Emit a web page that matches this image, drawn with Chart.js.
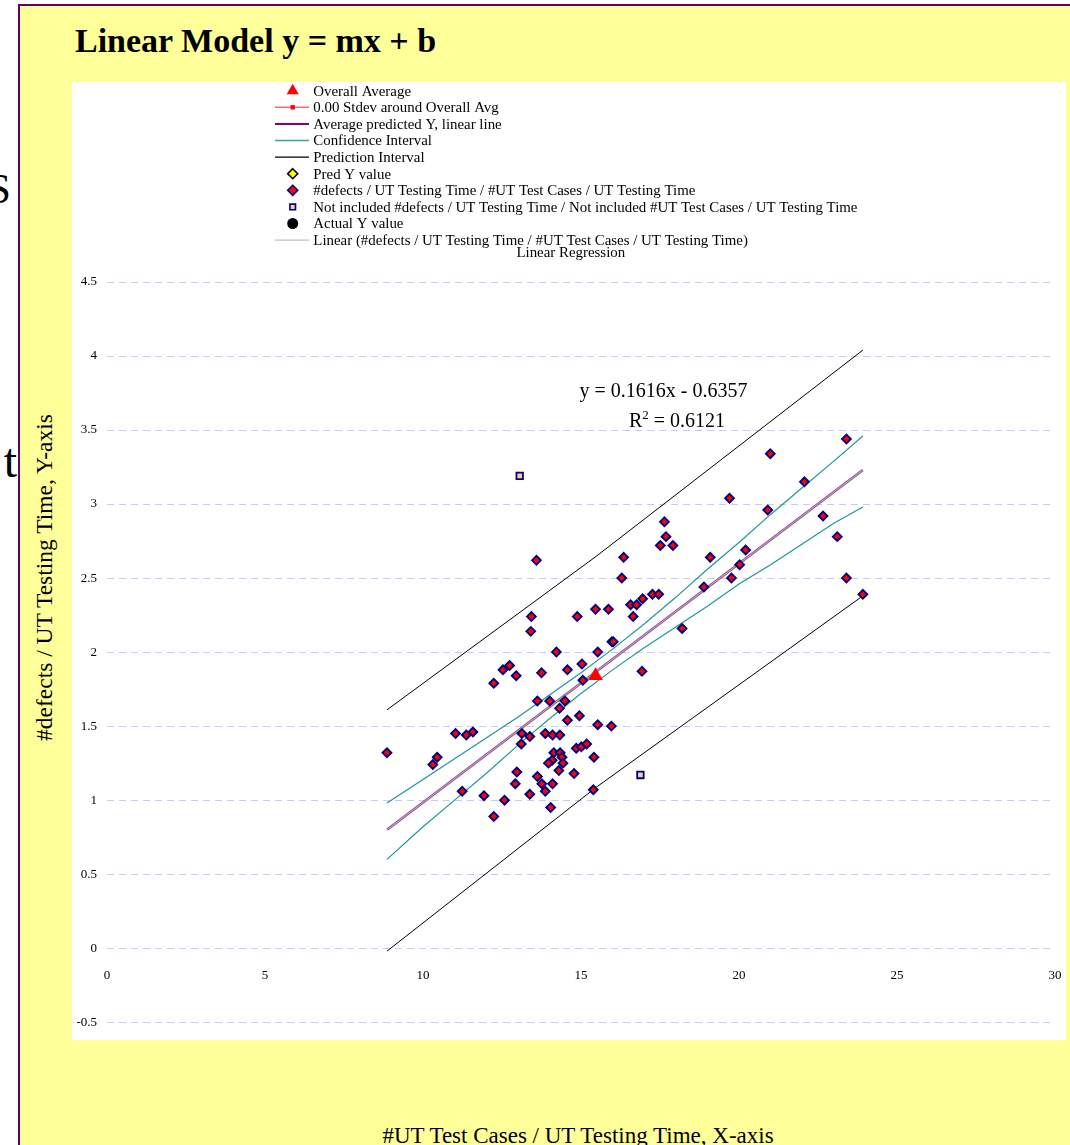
<!DOCTYPE html>
<html>
<head>
<meta charset="utf-8">
<title>Linear Model y = mx + b</title>
<script src="https://cdn.jsdelivr.net/npm/chart.js@4.4.1/dist/chart.umd.min.js"></script>
<style>
  html, body { margin: 0; padding: 0; background: #fff; }
  body {
    width: 1070px; height: 1145px; position: relative; overflow: hidden;
    font-family: "Liberation Serif", "Times New Roman", serif; color: #000;
  }
  .behind { position: absolute; width: 100px; text-align: right; }
  #panel {
    position: absolute; left: 18px; top: 4px; width: 1052px; height: 1160px;
    box-sizing: border-box; background: #ffff99;
    border-left: 2px solid #660066; border-top: 2px solid #660066;
  }
  #title {
    position: absolute; left: 75px; top: 24px; white-space: nowrap;
    font-size: 34px; line-height: 34px; font-weight: bold;
  }
  #plot { position: absolute; left: 72px; top: 82px; width: 994px; height: 958px; background: #fff; }
  #ytitle {
    position: absolute; left: -156px; top: 566px; width: 400px; text-align: center;
    font-size: 23.5px; line-height: 23px; white-space: nowrap; transform: rotate(-90deg);
  }
  #xtitle {
    position: absolute; left: 378px; top: 1124px; width: 400px; text-align: center;
    font-size: 23px; line-height: 23px; white-space: nowrap;
  }
</style>
</head>
<body>
<div class="behind" style="left:-89px; top:167px; font-size:43px; line-height:43px;">S</div>
<div class="behind" style="left:-83px; top:437px; font-size:48px; line-height:48px;">t</div>
<div id="panel"></div>
<div id="title">Linear Model y = mx + b</div>
<div id="plot"><canvas id="chart" width="994" height="958"></canvas></div>
<div id="ytitle">#defects / UT Testing Time, Y-axis</div>
<div id="xtitle">#UT Test Cases / UT Testing Time, X-axis</div>

<script>
// ==============================
// DATA
// ==============================

// #UT Test Cases / UT Testing Time
const testCasesPerHour = [
  15.98, 14.22, 15.53, 12.74, 12.53, 12.95, 13.75, 14.57, 15.03, 12.24,
  15.06, 13.62, 14.01, 14.49, 14.32, 14.57, 14.95, 15.53, 15.96, 11.03,
  11.37, 11.58, 13.13, 13.38, 13.87, 14.10, 14.33, 13.11, 8.86, 10.45,
  10.31, 14.85, 15.01, 15.18, 14.14, 14.34, 14.40, 14.09, 15.41, 13.97,
  14.43, 12.97, 14.30, 14.78, 13.62, 12.92, 13.76, 14.10, 13.87, 11.24,
  11.93, 13.38, 12.58, 15.39, 14.04, 12.24,
  13.59, 16.35, 16.29, 13.43, 13.41, 14.88, 15.46, 15.87, 16.57, 16.76,
  16.95, 17.26, 17.46, 16.65, 18.89, 18.20, 16.02, 16.93, 17.64, 17.69,
  17.51, 17.91, 23.40, 20.99, 22.07, 19.70, 20.91, 22.66, 23.11, 19.09,
  20.21, 20.02, 19.76, 23.40, 23.92
];

// #defects / UT Testing Time
const defectsPerHour = [
  2.07, 2.00, 2.00, 1.91, 1.88, 1.84, 1.86, 1.88, 1.92, 1.79,
  1.81, 1.67, 1.67, 1.67, 1.62, 1.54, 1.57, 1.51, 1.50, 1.45,
  1.44, 1.46, 1.45, 1.43, 1.45, 1.44, 1.44, 1.38, 1.32, 1.29,
  1.24, 1.35, 1.36, 1.38, 1.32, 1.32, 1.29, 1.27, 1.29, 1.25,
  1.25, 1.19, 1.20, 1.18, 1.16, 1.11, 1.11, 1.11, 1.06, 1.06,
  1.03, 1.04, 1.00, 1.07, 0.95, 0.89,
  2.62, 2.64, 2.50, 2.24, 2.14, 2.24, 2.29, 2.29, 2.32, 2.32,
  2.36, 2.39, 2.39, 2.24, 2.44, 2.16, 2.07, 1.87, 2.88, 2.78,
  2.72, 2.72, 3.44, 3.34, 3.15, 3.04, 2.96, 2.92, 2.78, 2.64,
  2.69, 2.59, 2.50, 2.50, 2.39
];

// points left out of the fit
const excludedX = [13.06, 16.88];
const excludedY = [3.19, 1.17];

// overall average
const overallAvgX = [15.46];
const overallAvgY = [1.84];

// regression line ends
const fitX = [8.86, 23.92];
const fitY = [0.80, 3.23];

// confidence interval
const ciX =     [8.86, 10,   11,   12,   13,   14,   15,   16,   17,   18,   19,   20,   21,   22,   23,   23.92];
const ciUpper = [0.98, 1.14, 1.28, 1.42, 1.56, 1.71, 1.86, 2.02, 2.19, 2.37, 2.56, 2.74, 2.93, 3.11, 3.29, 3.46];
const ciLower = [0.60, 0.82, 1.00, 1.18, 1.37, 1.55, 1.72, 1.88, 2.03, 2.17, 2.31, 2.46, 2.59, 2.73, 2.87, 2.98];

// prediction interval
const piX =     [8.86, 15.5, 23.92];
const piUpper = [1.61, 2.65, 4.04];
const piLower = [-0.02, 1.09, 2.38];

const equationText = 'y = 0.1616x - 0.6357';
const r2Value = '0.6121';
const subTitle = 'Linear Regression';

const FONT = '"Liberation Serif", "Times New Roman", serif';

function pts(xs, ys) {
  return xs.map((x, i) => ({ x: x, y: ys[i] }));
}

// ==============================
// MARKERS (legend)
// ==============================
function drawMarker(ctx, style, x, y, r) {
  ctx.beginPath();
  if (style === 'triangle') {
    ctx.moveTo(x, y - r);
    ctx.lineTo(x + r * 0.866, y + r * 0.5);
    ctx.lineTo(x - r * 0.866, y + r * 0.5);
    ctx.closePath();
  } else if (style === 'rectRot') {
    ctx.moveTo(x, y - r);
    ctx.lineTo(x + r, y);
    ctx.lineTo(x, y + r);
    ctx.lineTo(x - r, y);
    ctx.closePath();
  } else if (style === 'rect') {
    ctx.rect(x - r, y - r, 2 * r, 2 * r);
  } else {
    ctx.arc(x, y, r, 0, Math.PI * 2);
  }
}

// legend rows, in the order of the reference
const legendRows = [
  { text: 'Overall Average', marker: 'triangle', r: 7, fill: '#ff0000', stroke: null },
  { text: '0.00 Stdev around Overall Avg', line: '#ff6b6b', lw: 1.5, marker: 'rect', r: 2.2, fill: '#ff0000', stroke: null },
  { text: 'Average predicted Y, linear line', line: '#800080', lw: 2 },
  { text: 'Confidence Interval', line: '#3aa3a3', lw: 1.5 },
  { text: 'Prediction Interval', line: '#000000', lw: 1.2 },
  { text: 'Pred Y value', marker: 'rectRot', r: 5, fill: '#ffff00', stroke: '#000000' },
  { text: '#defects / UT Testing Time / #UT Test Cases / UT Testing Time', marker: 'rectRot', r: 5, fill: '#ff0000', stroke: '#000080' },
  { text: 'Not included #defects / UT Testing Time / Not included #UT Test Cases / UT Testing Time', marker: 'rect', r: 2.8, fill: '#ffcc99', stroke: '#000080' },
  { text: 'Actual Y value', marker: 'circle', r: 5.5, fill: '#000000', stroke: null },
  { text: 'Linear (#defects / UT Testing Time / #UT Test Cases / UT Testing Time)', line: '#c0c0c0', lw: 1.2 }
];

const legendPlugin = {
  id: 'sheetLegend',
  afterDraw(chart) {
    const ctx = chart.ctx;
    const markX = 220.7, lineX0 = 203, lineX1 = 237, textX = 241.3;
    const row0 = 8.7, rowH = 16.6;
    ctx.save();
    ctx.font = '14.9px ' + FONT;
    ctx.textBaseline = 'middle';
    legendRows.forEach((row, i) => {
      const y = row0 + i * rowH;
      if (row.line) {
        ctx.strokeStyle = row.line;
        ctx.lineWidth = row.lw;
        ctx.beginPath();
        ctx.moveTo(lineX0, y);
        ctx.lineTo(lineX1, y);
        ctx.stroke();
      }
      if (row.marker) {
        drawMarker(ctx, row.marker, markX, y, row.r);
        ctx.fillStyle = row.fill;
        ctx.fill();
        if (row.stroke) {
          ctx.strokeStyle = row.stroke;
          ctx.lineWidth = 1.6;
          ctx.stroke();
        }
      }
      ctx.fillStyle = '#000';
      ctx.textAlign = 'left';
      ctx.fillText(row.text, textX, y + 1);
    });
    ctx.textAlign = 'center';
    ctx.fillText(subTitle, 498.8, row0 + legendRows.length * rowH - 4);
    ctx.restore();
  }
};

// trendline equation label
const equationPlugin = {
  id: 'equationLabel',
  afterDatasetsDraw(chart) {
    const ctx = chart.ctx;
    const xs = chart.scales.x, ys = chart.scales.y;
    const big = '20px ' + FONT, small = '13px ' + FONT;
    ctx.save();
    ctx.fillStyle = '#000';
    ctx.textBaseline = 'alphabetic';
    ctx.font = big;
    ctx.textAlign = 'center';
    ctx.fillText(equationText, xs.getPixelForValue(17.61), ys.getPixelForValue(3.72));

    // R² = ...
    const rest = ' = ' + r2Value;
    const wR = ctx.measureText('R').width, wRest = ctx.measureText(rest).width;
    ctx.font = small;
    const w2 = ctx.measureText('2').width;
    const total = wR + w2 + wRest;
    let x = xs.getPixelForValue(18.04) - total / 2;
    const base = ys.getPixelForValue(3.52);
    ctx.textAlign = 'left';
    ctx.font = big;
    ctx.fillText('R', x, base);
    x += wR;
    ctx.font = small;
    ctx.fillText('2', x, base - 8);
    x += w2;
    ctx.font = big;
    ctx.fillText(rest, x, base);
    ctx.restore();
  }
};

// ==============================
// CHART
// ==============================
const ctx = document.getElementById('chart').getContext('2d');

new Chart(ctx, {
  type: 'scatter',
  data: {
    datasets: [
      {
        label: 'Overall Average',
        data: pts(overallAvgX, overallAvgY),
        pointStyle: 'triangle',
        pointRadius: 8.5,
        backgroundColor: '#ff0000',
        borderColor: '#ff0000',
        borderWidth: 0,
        order: 0
      },
      {
        label: '0.00 Stdev around Overall Avg',
        data: pts(overallAvgX, overallAvgY),
        showLine: true,
        pointStyle: 'rect',
        pointRadius: 3,
        backgroundColor: '#ff0000',
        borderColor: '#ff6b6b',
        borderWidth: 1,
        order: 1
      },
      {
        label: 'Pred Y value',
        data: [],
        pointStyle: 'rectRot',
        backgroundColor: '#ffff00',
        borderColor: '#000000',
        order: 2
      },
      {
        label: 'Actual Y value',
        data: [],
        pointStyle: 'circle',
        backgroundColor: '#000000',
        order: 2
      },
      {
        label: '#defects / UT Testing Time / #UT Test Cases / UT Testing Time',
        data: pts(testCasesPerHour, defectsPerHour),
        pointStyle: 'rectRot',
        pointRadius: 4.4,
        backgroundColor: '#ff0000',
        borderColor: '#000080',
        borderWidth: 1.9,
        order: 3
      },
      {
        label: 'Not included #defects / UT Testing Time / Not included #UT Test Cases / UT Testing Time',
        data: pts(excludedX, excludedY),
        pointStyle: 'rect',
        pointRadius: 4.6,
        backgroundColor: '#ffcc99',
        borderColor: '#000080',
        borderWidth: 1.8,
        order: 4
      },
      {
        label: 'Linear (#defects / UT Testing Time / #UT Test Cases / UT Testing Time)',
        data: pts(fitX, fitY),
        showLine: true,
        pointRadius: 0,
        borderColor: '#c8b4c8',
        borderWidth: 1,
        order: 5
      },
      {
        label: 'Average predicted Y, linear line',
        data: pts(fitX, fitY),
        showLine: true,
        pointRadius: 0,
        borderColor: '#8e4a92',
        borderWidth: 2.6,
        order: 6
      },
      {
        label: 'Confidence Interval',
        data: pts(ciX, ciUpper),
        showLine: true,
        pointRadius: 0,
        borderColor: '#1f9696',
        borderWidth: 1.2,
        order: 7
      },
      {
        label: 'Confidence Interval (lower)',
        data: pts(ciX, ciLower),
        showLine: true,
        pointRadius: 0,
        borderColor: '#1f9696',
        borderWidth: 1.2,
        order: 7
      },
      {
        label: 'Prediction Interval',
        data: pts(piX, piUpper),
        showLine: true,
        pointRadius: 0,
        borderColor: '#000000',
        borderWidth: 1,
        order: 8
      },
      {
        label: 'Prediction Interval (lower)',
        data: pts(piX, piLower),
        showLine: true,
        pointRadius: 0,
        borderColor: '#000000',
        borderWidth: 1,
        order: 8
      }
    ]
  },
  options: {
    responsive: false,
    animation: false,
    devicePixelRatio: 1,
    layout: { autoPadding: false, padding: { left: 0, top: 200, right: 11, bottom: 14 } },
    plugins: {
      legend: { display: false },
      tooltip: { enabled: false },
      title: { display: false }
    },
    scales: {
      x: {
        type: 'linear',
        min: 0,
        max: 30,
        position: { y: 0 },
        // tick marks hidden (grid off) but their length pushes the labels down
        grid: { display: false, drawTicks: true, tickLength: 18 },
        border: { display: false },
        ticks: {
          stepSize: 5,
          padding: 2,
          color: '#000',
          font: { family: FONT, size: 13 }
        },
        afterFit(scale) { scale.height = 0; }
      },
      y: {
        type: 'linear',
        min: -0.5,
        max: 4.5,
        grid: { color: '#c8c8ff', lineWidth: 1, drawTicks: false },
        border: { display: false, dash: [7, 5] },
        ticks: {
          stepSize: 0.5,
          padding: 10,
          color: '#000',
          font: { family: FONT, size: 13 },
          callback: v => String(Math.round(v * 10) / 10)
        },
        afterFit(scale) { scale.width = 35; }
      }
    }
  },
  plugins: [legendPlugin, equationPlugin]
});
</script>
</body>
</html>
